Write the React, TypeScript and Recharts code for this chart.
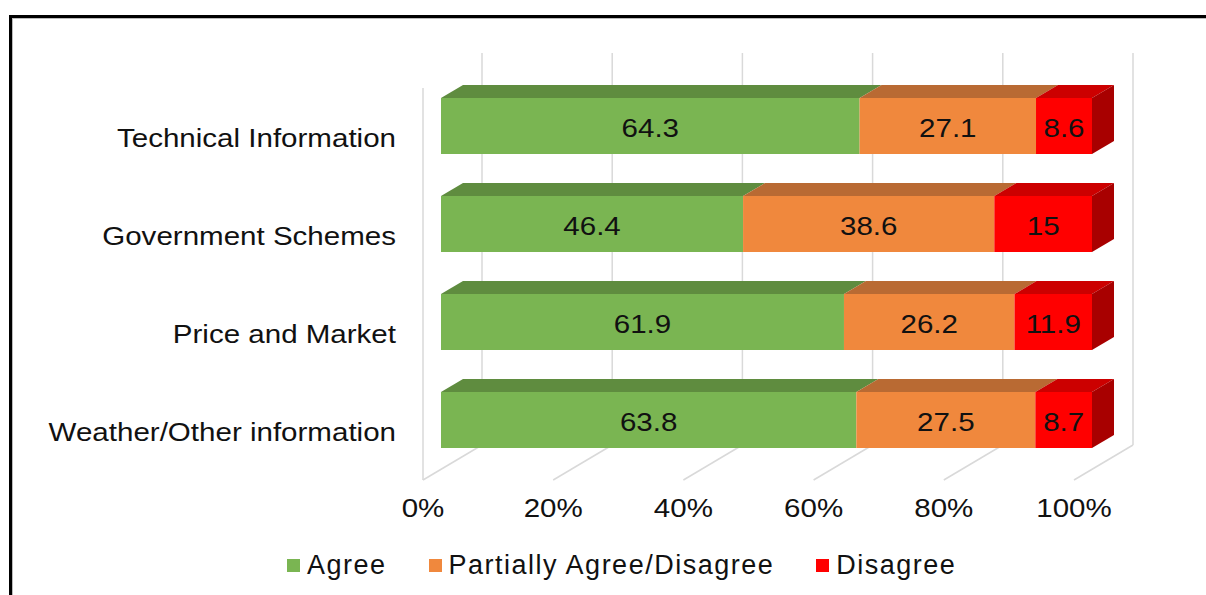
import React from 'react';
import { BarChart, Bar, XAxis, YAxis, CartesianGrid, LabelList } from 'recharts';

const categories = ['Technical Information', 'Government Schemes', 'Price and Market', 'Weather/Other information'];
const agree = [64.3, 46.4, 61.9, 63.8];
const partial = [27.1, 38.6, 26.2, 27.5];
const disagree = [8.6, 15, 11.9, 8.7];
const xTicks = [0, 20, 40, 60, 80, 100];
const seriesNames = ['Agree', 'Partially Agree/Disagree', 'Disagree'];
const seriesKeys = ['agree', 'partial', 'disagree'];
const frontColors = ['#7AB552', '#F0883D', '#FF0000'];
const topColors = ['#5F8C3F', '#B96A33', '#CC0000'];
const sideColors = ['#4E7533', '#9E5525', '#A80000'];

const data = categories.map((c, i) => ({
  category: c,
  agree: agree[i],
  partial: partial[i],
  disagree: disagree[i],
}));

const DX = 22;
const DY = 13;
const FX = 18;
const FY = 11;
const BX = 41;
const BY = 24;
const FONT = '"Liberation Sans", Arial, sans-serif';
const FS = 26.5;
const SX = 1.115;
const GRID = '#D9D9D9';

const make3D = (si: number, showSide: boolean) => (props: any) => {
  const { x, y, width, height } = props;
  if (!(width > 0)) return <g />;
  return (
    <g>
      <polygon
        points={`${x},${y} ${x + DX},${y - DY} ${x + width + DX},${y - DY} ${x + width},${y}`}
        fill={topColors[si]}
      />
      {showSide && (
        <polygon
          points={`${x + width},${y} ${x + width + DX},${y - DY} ${x + width + DX},${y + height - DY} ${x + width},${y + height}`}
          fill={sideColors[si]}
        />
      )}
      <rect x={x} y={y} width={width} height={height} fill={frontColors[si]} />
    </g>
  );
};

const gridLine = (p: any) => {
  const { x1, y1, y2, index } = p;
  const bx = x1 + BX;
  return (
    <g key={`grid-${index}-${x1}`}>
      <line x1={bx} y1={y1 - BY} x2={bx} y2={y2 - BY} stroke={GRID} strokeWidth={1.5} />
      <line x1={bx} y1={y2 - BY} x2={x1 - FX} y2={y2 + FY} stroke={GRID} strokeWidth={1.5} />
      {index === 0 && (
        <line x1={x1 - FX} y1={y1 + FY} x2={x1 - FX} y2={y2 + FY} stroke={GRID} strokeWidth={1.5} />
      )}
    </g>
  );
};

const SText = ({ x, y, anchor, children }: any) => (
  <text
    transform={`translate(${x},${y}) scale(${SX},1)`}
    x={0}
    y={0}
    textAnchor={anchor}
    fontFamily={FONT}
    fontSize={FS}
    fill="#111"
  >
    {children}
  </text>
);

const valueLabel = (p: any) => {
  const { x, y, width, height, value } = p;
  return (
    <SText x={x + width / 2} y={y + height / 2 + 11} anchor="middle">
      {value}
    </SText>
  );
};

const CatTick = (p: any) => {
  const { x, y, payload } = p;
  return (
    <SText x={x - 45} y={y + 21} anchor="end">
      {payload.value}
    </SText>
  );
};

const PctTick = (p: any) => {
  const { x, y, payload } = p;
  return (
    <SText x={x - FX} y={y + 48} anchor="middle">
      {`${payload.value}%`}
    </SText>
  );
};

export default function App() {
  return (
    <div style={{ position: 'absolute', left: 0, top: 0, width: 1206, height: 595, background: '#fff', overflow: 'hidden' }}>
      <div
        style={{
          position: 'absolute',
          left: 9,
          top: 15,
          width: 1197,
          height: 580,
          boxSizing: 'border-box',
          borderLeft: '3px solid #000',
          borderTop: '3px solid #000',
          boxShadow: 'inset 1px 1px 0 #BBB',
        }}
      />
      <div style={{ position: 'absolute', left: 0, top: 0 }}>
        <BarChart
          width={1206}
          height={595}
          data={data}
          layout="vertical"
          margin={{ top: 77, right: 114, bottom: 96, left: 0 }}
          barSize={56}
        >
          <CartesianGrid horizontal={false} vertical={gridLine} />
          <XAxis
            type="number"
            domain={[0, 100]}
            ticks={xTicks}
            axisLine={false}
            tickLine={false}
            tickSize={0}
            tickMargin={0}
            tick={<PctTick />}
            interval={0}
            height={30}
          />
          <YAxis
            type="category"
            dataKey="category"
            width={441}
            axisLine={false}
            tickLine={false}
            tickSize={0}
            tickMargin={0}
            tick={<CatTick />}
            interval={0}
          />
          {seriesKeys.map((k, si) => (
            <Bar
              key={k}
              dataKey={k}
              name={seriesNames[si]}
              stackId="s"
              fill={frontColors[si]}
              shape={make3D(si, si === seriesKeys.length - 1)}
              isAnimationActive={false}
            >
              <LabelList dataKey={k} content={valueLabel} />
            </Bar>
          ))}
        </BarChart>
      </div>
      <div
        style={{
          position: 'absolute',
          left: 287,
          top: 550,
          display: 'flex',
          alignItems: 'center',
          fontFamily: FONT,
          fontSize: 27,
          letterSpacing: 1.5,
          lineHeight: '30px',
          color: '#111',
          whiteSpace: 'nowrap',
        }}
      >
        {seriesNames.map((n, i) => (
          <div key={n} style={{ display: 'flex', alignItems: 'center', marginRight: 42 }}>
            <span style={{ width: 13, height: 13, background: frontColors[i], marginRight: 7, display: 'inline-block' }} />
            <span>{n}</span>
          </div>
        ))}
      </div>
    </div>
  );
}
